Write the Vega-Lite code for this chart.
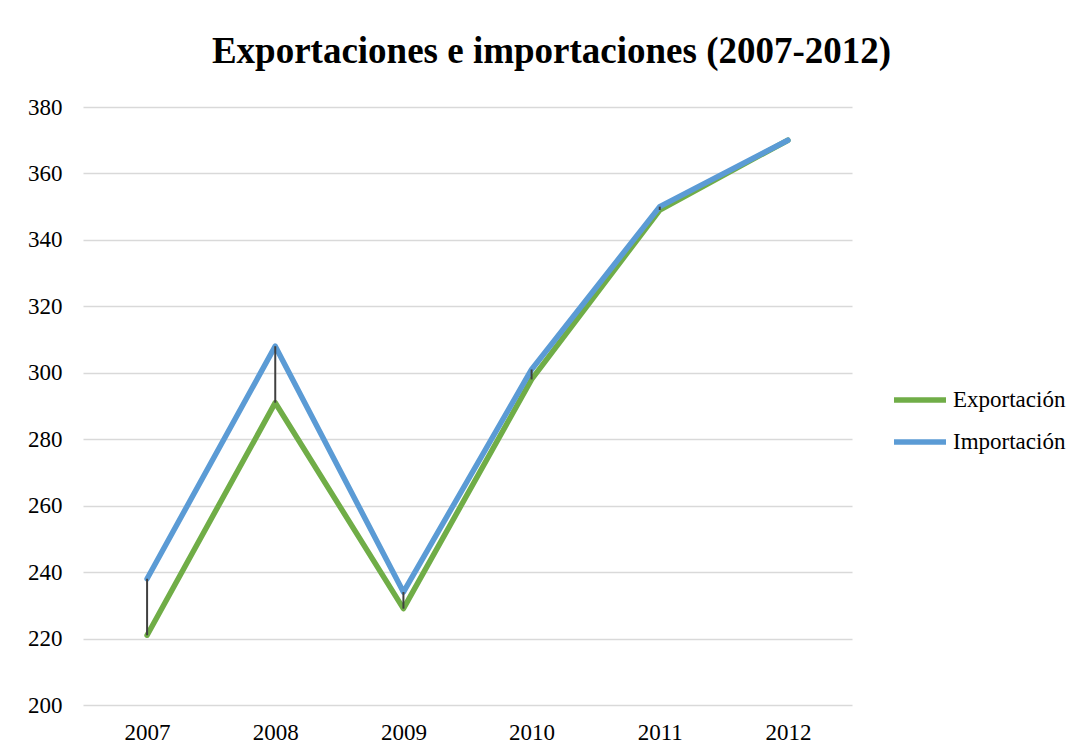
{
  "$schema": "https://vega.github.io/schema/vega-lite/v6.json",
  "width": 769,
  "height": 598,
  "autosize": "none",
  "padding": {"left": 83, "top": 107, "right": 229, "bottom": 50},
  "background": "white",
  "config": {
    "view": {"stroke": null},
    "font": "Liberation Serif"
  },
  "title": {
    "text": "Exportaciones e importaciones (2007-2012)",
    "font": "Liberation Serif",
    "fontSize": 37,
    "fontWeight": "bold",
    "color": "#000000",
    "anchor": "middle",
    "baseline": "alphabetic",
    "offset": 41,
    "dx": 84,
    "dy": 45
  },
  "data": {
    "values": [
      {"year": "2007", "Exportación": 221, "Importación": 238},
      {"year": "2008", "Exportación": 291, "Importación": 308},
      {"year": "2009", "Exportación": 229, "Importación": 234},
      {"year": "2010", "Exportación": 298, "Importación": 301},
      {"year": "2011", "Exportación": 349, "Importación": 350},
      {"year": "2012", "Exportación": 370, "Importación": 370}
    ]
  },
  "encoding": {
    "x": {
      "field": "year",
      "type": "ordinal",
      "scale": {"type": "point", "padding": 0.5},
      "axis": {
        "title": null,
        "labelAngle": 0,
        "labelFont": "Liberation Serif",
        "labelFontSize": 23,
        "labelColor": "#000000",
        "labelPadding": 16,
        "ticks": false,
        "domain": false,
        "grid": false
      }
    }
  },
  "layer": [
    {
      "transform": [{"fold": ["Exportación", "Importación"], "as": ["serie", "valor"]}],
      "mark": {"type": "line", "strokeWidth": 5.5, "strokeJoin": "round", "strokeCap": "round"},
      "encoding": {
        "y": {
          "field": "valor",
          "type": "quantitative",
          "scale": {"domain": [200, 380], "zero": false, "nice": false},
          "axis": {
            "title": null,
            "values": [200, 220, 240, 260, 280, 300, 320, 340, 360, 380],
            "labelFont": "Liberation Serif",
            "labelFontSize": 23,
            "labelColor": "#000000",
            "labelPadding": 21,
            "ticks": false,
            "domain": false,
            "grid": true,
            "gridColor": "#d9d9d9",
            "gridWidth": 1.5
          }
        },
        "color": {
          "field": "serie",
          "type": "nominal",
          "scale": {"domain": ["Exportación", "Importación"], "range": ["#70AD47", "#5B9BD5"]},
          "legend": {
            "title": null,
            "orient": "none",
            "legendX": 808,
            "legendY": 264,
            "padding": 0,
            "symbolType": "stroke",
            "symbolSize": 2704,
            "symbolStrokeWidth": 5.5,
            "labelFont": "Liberation Serif",
            "labelFontSize": 23,
            "labelColor": "#000000",
            "labelOffset": 4,
            "rowPadding": 1
          }
        }
      }
    },
    {
      "mark": {"type": "rule", "color": "#404040", "strokeWidth": 2},
      "encoding": {
        "y": {"field": "Importación", "type": "quantitative"},
        "y2": {"field": "Exportación"}
      }
    }
  ]
}
